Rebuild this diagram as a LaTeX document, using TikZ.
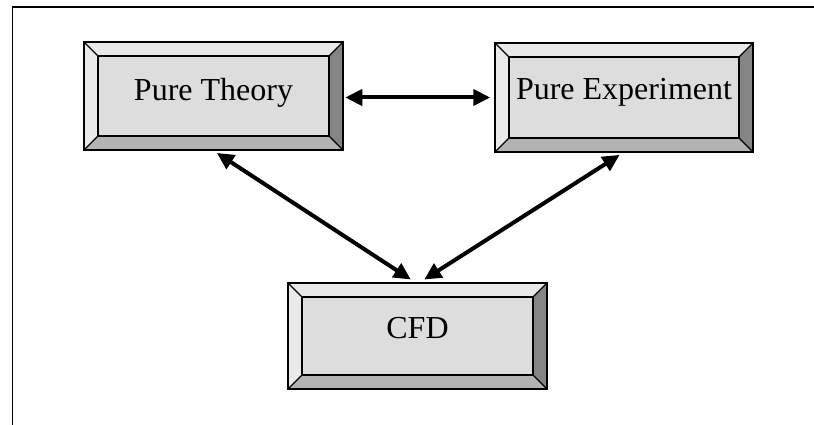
\documentclass[tikz,border=0pt]{standalone}
\usepackage{fontspec}
\setmainfont{Liberation Serif}
\usetikzlibrary{arrows.meta,calc}
\definecolor{bvtop}{HTML}{E8E8E8}
\definecolor{bvleft}{HTML}{EAEAEA}
\definecolor{bvright}{HTML}{858585}
\definecolor{bvbottom}{HTML}{B3B3B3}
\definecolor{bvface}{HTML}{DDDDDD}
\tikzset{
  bevelbox/.style={
    rectangle, draw=black, line width=1.5pt, fill=bvface, inner sep=0pt,
    font=\fontsize{32pt}{36pt}\selectfont, text height=22pt, text depth=12pt,
    path picture={
      \def\bv{14pt}
      \coordinate (SW) at (path picture bounding box.south west);
      \coordinate (NE) at (path picture bounding box.north east);
      \coordinate (NW) at (path picture bounding box.north west);
      \coordinate (SE) at (path picture bounding box.south east);
      \coordinate (iSW) at ([shift={(\bv,\bv)}]SW);
      \coordinate (iNE) at ([shift={(-\bv,-\bv)}]NE);
      \coordinate (iNW) at ([shift={(\bv,-\bv)}]NW);
      \coordinate (iSE) at ([shift={(-\bv,\bv)}]SE);
      \fill[bvtop] (NW) -- (NE) -- (iNE) -- (iNW) -- cycle;
      \fill[bvleft] (NW) -- (iNW) -- (iSW) -- (SW) -- cycle;
      \fill[bvright] (NE) -- (SE) -- (iSE) -- (iNE) -- cycle;
      \fill[bvbottom] (SW) -- (iSW) -- (iSE) -- (SE) -- cycle;
      \draw[line width=1.1pt] (iSW) rectangle (iNE);
      \draw[line width=1.1pt] (NW) -- (iNW) (NE) -- (iNE) (SW) -- (iSW) (SE) -- (iSE);
    }
  },
  dblarrow/.style={line width=4pt, {Triangle[length=17pt,width=16pt]}-{Triangle[length=17pt,width=16pt]}},
  framestyle/.style={line width=1.4pt, draw=black}
}
\begin{document}
\begin{tikzpicture}[x=1pt,y=1pt]
\useasboundingbox (0,0) rectangle (814,425);
% frame
\coordinate (fTR) at (814,418);
\coordinate (fTL) at (12.5,418);
\coordinate (fBL) at (12.5,0);
\draw[framestyle] (fTR) -- (fTL) -- (fBL);
% boxes
\node[bevelbox, minimum width=259pt, minimum height=108pt] (t) at (213.5,329) {Pure Theory};
\node[bevelbox, minimum width=258pt, minimum height=109pt, text depth=17pt] (e) at (624,327.5) {Pure Experiment};
\node[bevelbox, minimum width=259pt, minimum height=106pt, text depth=16pt] (c) at (417.5,89) {CFD\hspace{10pt}};
% connectors
\draw[dblarrow, shorten <=1.5pt, shorten >=4pt] ([yshift=-1.5pt]t.east) -- ([yshift=-1.5pt]t.east -| e.west);
\draw[dblarrow, shorten <=4pt, shorten >=5pt] (t.south) -- ([xshift=-2.5pt]c.north);
\draw[dblarrow, shorten <=4pt, shorten >=5pt] ([xshift=-1pt]e.south) -- ([xshift=2.5pt]c.north);
\end{tikzpicture}
\end{document}
